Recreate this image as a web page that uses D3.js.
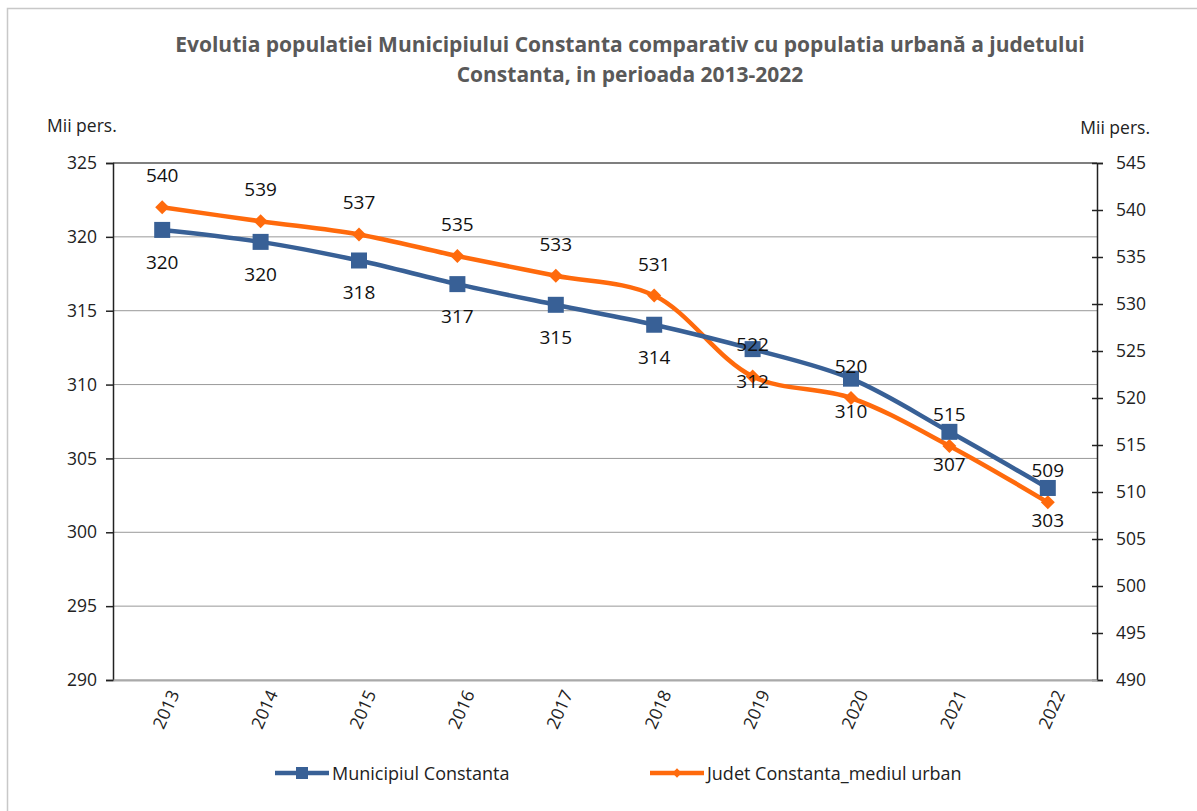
<!DOCTYPE html>
<html>
<head>
<meta charset="utf-8">
<script src="https://cdn.jsdelivr.net/npm/d3@7"></script>
<style>
  html, body { margin: 0; padding: 0; background: #fff; overflow: hidden; }
  svg { display: block; }
  text { font-family: "Open Sans", sans-serif; }
</style>
</head>
<body>
<svg id="mysvg"></svg>
<script>
const years = ["2013","2014","2015","2016","2017","2018","2019","2020","2021","2022"];
const municipiu = [320.47, 319.66, 318.4, 316.8, 315.4, 314.05, 312.4, 310.4, 306.8, 303.0];
const judetUrban = [540.3, 538.8, 537.4, 535.1, 533.0, 530.9, 522.3, 520.0, 514.9, 508.9];
const leftTicks = [290, 295, 300, 305, 310, 315, 320, 325];
const rightTicks = [490, 495, 500, 505, 510, 515, 520, 525, 530, 535, 540, 545];
const seriesNames = ["Municipiul Constanta", "Judet Constanta_mediul urban"];
const titleLines = ["Evolutia populatiei Municipiului Constanta comparativ cu populatia urbană a judetului", "Constanta, in perioada 2013-2022"];

const width = 1197, height = 811;
const margin = { top: 163, right: 100, bottom: 131, left: 113 };
const innerWidth = width - margin.left - margin.right;
const innerHeight = height - margin.top - margin.bottom;
const blue = "#386096", orange = "#FF6A0C";

const root = d3.select("#mysvg").attr("width", width).attr("height", height);

// frame (only top and left edges visible in the picture)
root.append("path").attr("d", `M7.5,${height} V8.5 H${width}`)
  .attr("fill", "none").attr("stroke", "#c8c8c8").attr("stroke-width", 1.5);

root.selectAll(".title").data(titleLines).join("text").attr("class", "title")
  .attr("x", 630).attr("y", (d, i) => 52 + i * 30)
  .attr("text-anchor", "middle").attr("font-size", 21).attr("font-weight", "bold").attr("fill", "#595959")
  .text(d => d);

root.append("text").attr("x", 47).attr("y", 132).attr("font-size", 17.5).attr("fill", "#222").text("Mii pers.");
root.append("text").attr("x", 1150).attr("y", 134).attr("text-anchor", "end").attr("font-size", 17.5).attr("fill", "#222").text("Mii pers.");

const svg = root.append("g").attr("transform", `translate(${margin.left},${margin.top})`);

const x_Scale = d3.scaleBand().domain(years).range([0, innerWidth]);
const xc = d => x_Scale(d) + x_Scale.bandwidth() / 2;
const yLeft = d3.scaleLinear().domain([290, 325]).range([innerHeight, 0]);
const yRight = d3.scaleLinear().domain([490, 545]).range([innerHeight, 0]);

// gridlines
svg.selectAll(".grid").data(leftTicks).join("line").attr("class", "grid")
  .attr("x1", 0).attr("x2", innerWidth).attr("y1", d => yLeft(d)).attr("y2", d => yLeft(d))
  .attr("stroke", d => d === 325 ? "#555" : "#999").attr("stroke-width", d => d === 325 ? 1.5 : 1);

// left axis
const gl = svg.append("g").call(d3.axisLeft(yLeft).tickValues(leftTicks).tickSize(7).tickPadding(9));
gl.select(".domain").attr("stroke", "#222").attr("stroke-width", 1.5);
gl.selectAll(".tick line").attr("stroke", "#222").attr("stroke-width", 1.5);
gl.selectAll("text").attr("fill", "#222").style("font-size", "17.5px").style("font-family", "'Open Sans', sans-serif");

// right axis
const gr = svg.append("g").attr("transform", `translate(${innerWidth},0)`)
  .call(d3.axisRight(yRight).tickValues(rightTicks).tickSize(6).tickPadding(13));
gr.select(".domain").attr("stroke", "#222").attr("stroke-width", 1.5);
gr.selectAll(".tick line").attr("x1", -5).attr("stroke", "#222").attr("stroke-width", 1.5);
gr.selectAll("text").attr("fill", "#222").style("font-size", "17.5px").style("font-family", "'Open Sans', sans-serif");

// bottom axis
const gb = svg.append("g").attr("transform", `translate(0,${innerHeight})`)
  .call(d3.axisBottom(x_Scale).tickSize(0).tickPadding(12));
gb.select(".domain").attr("stroke", "#aaa").attr("stroke-width", 2);
gb.selectAll("text").attr("fill", "#222").style("font-size", "17.5px").style("font-family", "'Open Sans', sans-serif")
  .style("text-anchor", "end").attr("dx", "-0.3em").attr("dy", "0.55em").attr("transform", "rotate(-66)");

// lines
const lineLeft = d3.line().x((d, i) => xc(years[i])).y(d => yLeft(d)).curve(d3.curveCatmullRom.alpha(0.5));
const lineRight = d3.line().x((d, i) => xc(years[i])).y(d => yRight(d)).curve(d3.curveCatmullRom.alpha(0.5));

svg.append("path").datum(judetUrban).attr("d", lineRight).attr("fill", "none").attr("stroke", orange).attr("stroke-width", 4.5);
svg.append("path").datum(municipiu).attr("d", lineLeft).attr("fill", "none").attr("stroke", blue).attr("stroke-width", 4.5);

const diamond = d3.symbol().type(d3.symbolDiamond2).size(125);
svg.selectAll(".m-orange").data(judetUrban).join("path").attr("class", "m-orange")
  .attr("transform", (d, i) => `translate(${xc(years[i])},${yRight(d)})`).attr("d", diamond).attr("fill", orange);

svg.selectAll(".m-blue").data(municipiu).join("rect").attr("class", "m-blue")
  .attr("x", (d, i) => xc(years[i]) - 8).attr("y", d => yLeft(d) - 8).attr("width", 16).attr("height", 16).attr("fill", blue);

// data labels
svg.selectAll(".lab-orange").data(judetUrban).join("text").attr("class", "lab-orange")
  .attr("x", (d, i) => xc(years[i])).attr("y", d => yRight(d) - 25)
  .attr("text-anchor", "middle").attr("font-size", 19).attr("fill", "#111")
  .text(d => Math.round(d));

svg.selectAll(".lab-blue").data(municipiu).join("text").attr("class", "lab-blue")
  .attr("x", (d, i) => xc(years[i])).attr("y", d => yLeft(d) + 39)
  .attr("text-anchor", "middle").attr("font-size", 19).attr("fill", "#111")
  .text(d => Math.round(d));

// legend
const legend = root.selectAll(".legend").data(seriesNames).join("g").attr("class", "legend")
  .attr("transform", (d, i) => `translate(${i === 0 ? 275 : 650},773)`);
legend.append("line").attr("x1", 0).attr("x2", 54).attr("stroke", (d, i) => i === 0 ? blue : orange).attr("stroke-width", 4.5);
legend.filter((d, i) => i === 0).append("rect").attr("x", 21).attr("y", -6).attr("width", 12).attr("height", 12).attr("fill", blue);
legend.filter((d, i) => i === 1).append("path").attr("transform", "translate(27,0)")
  .attr("d", d3.symbol().type(d3.symbolDiamond2).size(55)).attr("fill", orange);
legend.append("text").attr("x", 57).attr("y", 7).attr("font-size", 18).attr("fill", "#222").text(d => d);
</script>
</body>
</html>
